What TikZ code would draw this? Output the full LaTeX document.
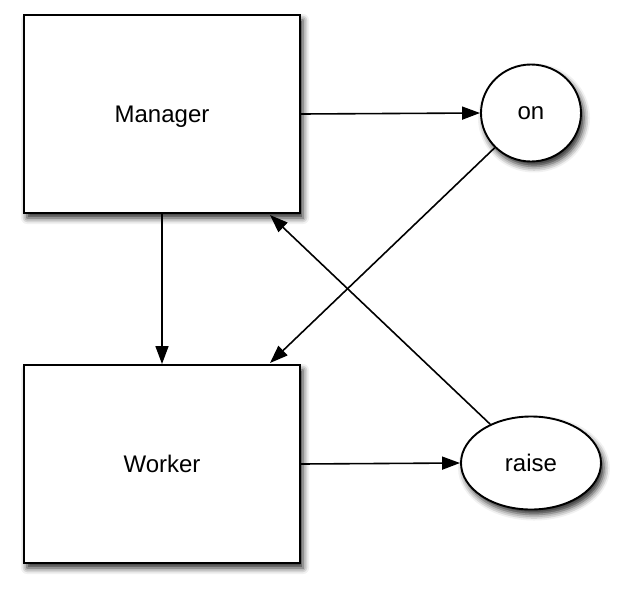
\documentclass[tikz,border=0pt]{standalone}
\usepackage{fontspec}
\setmainfont{Liberation Sans}
\usetikzlibrary{arrows.meta,shapes.geometric,shadows.blur}
\tikzset{
	shade/.style={blur shadow={shadow xshift=3pt,shadow yshift=-5pt,shadow blur radius=6pt,shadow opacity=85}},
	block/.style={draw,line width=1.9pt,fill=white,shade,minimum width=276pt,minimum height=198pt,text depth=0pt,font=\fontsize{24}{28}\selectfont},
	state/.style={ellipse,draw,line width=1.9pt,fill=white,shade,font=\fontsize{24}{28}\selectfont},
	link/.style={line width=1.6pt,-{Triangle[length=18pt,width=13pt]}}
}
\begin{document}
\begin{tikzpicture}[x=1pt,y=-1pt]
		\useasboundingbox (0,0) rectangle (622,595);
		%boxes and states
		\node[block] (manager) at (162,114) {Manager};
		\node[block] (worker) at (162,464) {Worker};
		\node[state,minimum width=100pt,minimum height=97pt] (on) at (531,113) {on};
		\node[state,minimum width=140pt,minimum height=93pt] (raise) at (531,463) {raise};
		\coordinate (mcorner) at (270,215);
		\coordinate (wcorner) at (270,363);
		%links
		\draw[link] (manager.east)--(on.west);
		\draw[link] (manager.south)--(worker.north);
		\draw[link] (worker.east)--(raise.west);
		\draw[link] (on)--(wcorner);
		\draw[link] (raise)--(mcorner);
\end{tikzpicture}
\end{document}
